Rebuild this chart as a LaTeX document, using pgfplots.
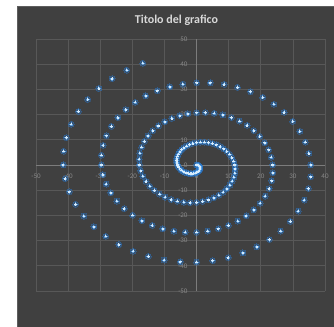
\documentclass[border=0pt]{standalone}
\usepackage{fontspec}
\setmainfont{Carlito}
\usepackage{pgfplots}
\pgfplotsset{compat=1.18}
\usepackage{pgfplotstable}

\definecolor{chartbg}{HTML}{404040}
\definecolor{chartedge}{HTML}{5E5E5E}
\definecolor{gridc}{HTML}{585858}
\definecolor{axisc}{HTML}{7C7C7C}
\definecolor{tickc}{HTML}{8A8A8A}
\definecolor{titlec}{HTML}{D9D9D9}
\definecolor{glow}{HTML}{2A78CC}
\definecolor{ring}{HTML}{5AA2E6}
\definecolor{core}{HTML}{D6EBFC}

% spiral points: angle (degrees), radius
\pgfplotstableread{
angle radius
0 0
-7.5 0.25
-15 0.49
-22.5 0.74
-30 0.99
-37.5 1.24
-45 1.48
-52.5 1.73
-60 1.98
-67.5 2.22
-75 2.47
-82.5 2.72
-90 2.96
-97.5 3.21
-105 3.46
-112.5 3.71
-120 3.95
-127.5 4.20
-135 4.45
-142.5 4.69
-150 4.94
-157.5 5.19
-165 5.43
-172.5 5.68
-180 5.93
-187.5 6.18
-195 6.42
-202.5 6.67
-210 6.92
-217.5 7.16
-225 7.41
-232.5 7.66
-240 7.90
-247.5 8.15
-255 8.40
-262.5 8.65
-270 8.89
-277.5 9.14
-285 9.39
-292.5 9.63
-300 9.88
-307.5 10.13
-315 10.37
-322.5 10.62
-330 10.87
-337.5 11.12
-345 11.36
-352.5 11.61
-360 11.86
-367.5 12.10
-375 12.35
-382.5 12.60
-390 12.84
-397.5 13.09
-405 13.34
-412.5 13.59
-420 13.83
-427.5 14.08
-435 14.33
-442.5 14.57
-450 14.82
-457.5 15.07
-465 15.31
-472.5 15.56
-480 15.81
-487.5 16.06
-495 16.30
-502.5 16.55
-510 16.80
-517.5 17.04
-525 17.29
-532.5 17.54
-540 17.78
-547.5 18.03
-555 18.28
-562.5 18.53
-570 18.77
-577.5 19.02
-585 19.27
-592.5 19.51
-600 19.76
-607.5 20.01
-615 20.25
-622.5 20.50
-630 20.75
-637.5 21.00
-645 21.24
-652.5 21.49
-660 21.74
-667.5 21.98
-675 22.23
-682.5 22.48
-690 22.72
-697.5 22.97
-705 23.22
-712.5 23.47
-720 23.71
-727.5 23.96
-735 24.21
-742.5 24.45
-750 24.70
-757.5 24.95
-765 25.19
-772.5 25.44
-780 25.69
-787.5 25.94
-795 26.18
-802.5 26.43
-810 26.68
-817.5 26.92
-825 27.17
-832.5 27.42
-840 27.66
-847.5 27.91
-855 28.16
-862.5 28.41
-870 28.65
-877.5 28.90
-885 29.15
-892.5 29.39
-900 29.64
-907.5 29.89
-915 30.13
-922.5 30.38
-930 30.63
-937.5 30.88
-945 31.12
-952.5 31.37
-960 31.62
-967.5 31.86
-975 32.11
-982.5 32.36
-990 32.60
-997.5 32.85
-1005 33.10
-1012.5 33.35
-1020 33.59
-1027.5 33.84
-1035 34.09
-1042.5 34.33
-1050 34.58
-1057.5 34.83
-1065 35.07
-1072.5 35.32
-1080 35.57
-1087.5 35.82
-1095 36.06
-1102.5 36.31
-1110 36.56
-1117.5 36.80
-1125 37.05
-1132.5 37.30
-1140 37.54
-1147.5 37.79
-1155 38.04
-1162.5 38.29
-1170 38.53
-1177.5 38.78
-1185 39.03
-1192.5 39.27
-1200 39.52
-1207.5 39.77
-1215 40.01
-1222.5 40.26
-1230 40.51
-1237.5 40.76
-1245 41.00
-1252.5 41.25
-1260 41.50
-1267.5 41.74
-1275 41.99
-1282.5 42.24
-1290 42.48
-1297.5 42.73
-1305 42.98
-1312.5 43.23
-1320 43.47
-1327.5 43.72
}\spiral

\begin{document}
\begin{tikzpicture}
% page and chart area
\useasboundingbox (-36bp,-36bp) rectangle (298bp,291bp);
\fill[white] (-36bp,-36bp) rectangle (298bp,291bp);
\fill[chartbg] (-19bp,-36bp) rectangle (298bp,285bp);
\draw[chartedge, line width=0.6bp] (-19bp,-36bp) -- (-19bp,285bp) -- (298bp,285bp);

\begin{axis}[
  scale only axis,
  width=289bp, height=252bp,
  xmin=-50, xmax=40, ymin=-50, ymax=50,
  axis lines=middle,
  axis line style={axisc, line width=0.7bp, -},
  every inner x axis line/.append style={-},
  every inner y axis line/.append style={-},
  xtick={-50,-40,...,40},
  ytick={-50,-40,...,50},
  hide obscured x ticks=false,
  hide obscured y ticks=false,
  major tick length=0pt,
  grid=major,
  major grid style={gridc, line width=0.6bp},
  /pgf/number format/assume math mode=true,
  ticklabel style={font=\fontsize{7bp}{8bp}\selectfont, text=tickc},
  xticklabel style={yshift=-5.5bp},
  yticklabel style={xshift=-5.5bp},
  clip=false,
]
% soft halo, ring and bright core for every point
\addplot[only marks, mark=*, data cs=polar,
  mark size=3bp, mark options={draw=glow, fill=glow, line width=0pt, opacity=0.3}]
  table[x=angle, y=radius] {\spiral};
\addplot[only marks, mark=*, data cs=polar,
  mark size=1.5bp, mark options={draw=ring, fill=ring, line width=0pt, opacity=0.7}]
  table[x=angle, y=radius] {\spiral};
\addplot[only marks, mark=*, data cs=polar,
  mark size=0.7bp, mark options={draw=core, fill=core, line width=0pt}]
  table[x=angle, y=radius] {\spiral};
\end{axis}

\node[text=titlec, font=\fontsize{12bp}{14bp}\selectfont\bfseries] at (140.5bp,270.3bp) {Titolo del grafico};
\end{tikzpicture}
\end{document}
